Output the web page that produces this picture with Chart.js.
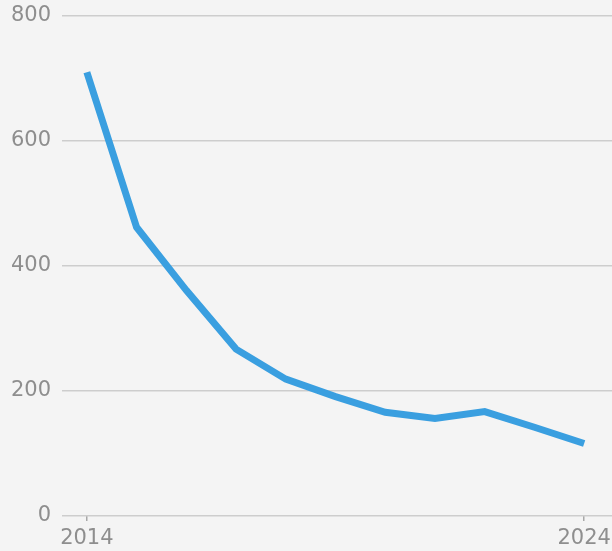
<!DOCTYPE html>
<html>
<head>
<meta charset="utf-8">
<script src="https://cdn.jsdelivr.net/npm/chart.js@4.4.1/dist/chart.umd.min.js"></script>
<style>
  html, body { margin: 0; padding: 0; background: #f4f4f4; }
  #wrap { width: 612px; height: 551px; }
</style>
</head>
<body>
<div id="wrap"><canvas id="chart" width="612" height="551"></canvas></div>
<script>
// values
const years = [2014, 2015, 2016, 2017, 2018, 2019, 2020, 2021, 2022, 2023, 2024];
const values = [710, 462, 361, 267, 219, 191, 166, 156, 167, 142, 116];
const yTicks = [0, 200, 400, 600, 800];
const xTicks = [2014, 2024];

const gray = '#8e8e8e';

new Chart(document.getElementById('chart'), {
  type: 'line',
  data: {
    datasets: [{
      data: years.map((y, i) => ({ x: y, y: values[i] })),
      borderColor: '#3a9fe0',
      borderWidth: 7,
      pointRadius: 0,
      tension: 0,
      borderCapStyle: 'butt',
      borderJoinStyle: 'miter'
    }]
  },
  options: {
    responsive: false,
    animation: false,
    layout: { padding: { top: 16, right: 0, left: 0, bottom: 0 } },
    plugins: { legend: { display: false }, tooltip: { enabled: false } },
    scales: {
      x: {
        type: 'linear',
        min: 2013.5,
        max: 2024.56,
        afterBuildTicks: s => { s.ticks = xTicks.map(v => ({ value: v })); },
        afterFit: s => { s.height = 35; s.paddingLeft = 0; s.paddingRight = 0; },
        border: { display: false },
        grid: { drawOnChartArea: false, drawTicks: true, tickLength: 5, color: '#a8a8a8', lineWidth: 1.5 },
        ticks: { color: gray, padding: 5, maxRotation: 0, font: { family: 'DejaVu Sans', size: 21 }, callback: v => String(v) }
      },
      y: {
        min: 0,
        max: 800,
        afterBuildTicks: s => { s.ticks = yTicks.map(v => ({ value: v })); },
        afterFit: s => { s.width = 62; s.paddingTop = 0; s.paddingBottom = 0; },
        border: { display: false },
        grid: { drawTicks: false, color: '#cdcdcd', lineWidth: 1.6 },
        ticks: { color: gray, padding: 11, font: { family: 'DejaVu Sans', size: 21 } }
      }
    }
  }
});
</script>
</body>
</html>
